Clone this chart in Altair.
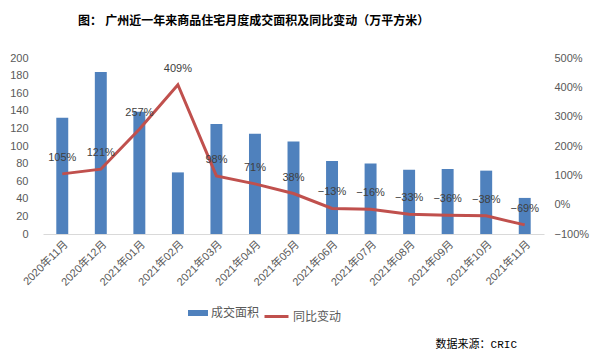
import altair as alt
import pandas as pd

months = ["2020年11月", "2020年12月", "2021年01月", "2021年02月", "2021年03月",
          "2021年04月", "2021年05月", "2021年06月", "2021年07月", "2021年08月",
          "2021年09月", "2021年10月", "2021年11月"]
area = [132, 184, 139, 70, 125, 114, 105, 83, 80, 73, 74, 72, 41]
yoy = [105, 121, 257, 409, 98, 71, 38, -13, -16, -33, -36, -38, -69]
left_ticks = [0, 20, 40, 60, 80, 100, 120, 140, 160, 180, 200]
right_ticks = [-100, 0, 100, 200, 300, 400, 500]

df = pd.DataFrame({"month": months, "area": area, "yoy": yoy})
df["bar_name"] = "成交面积"
df["line_name"] = "同比变动"

CJK = "Liberation Sans, Noto Sans CJK SC"
GRAY = "#595959"

x = alt.X("month:N", sort=months,
          scale=alt.Scale(paddingInner=0.69, paddingOuter=0.345),
          axis=alt.Axis(title=None, labelAngle=-45, labelFontSize=11,
                        labelColor=GRAY, labelFont=CJK, domainColor="#D9D9D9",
                        ticks=False, labelPadding=4))

bars = alt.Chart(df).mark_bar(color="#4F81BD").encode(
    x=x,
    y=alt.Y("area:Q", scale=alt.Scale(domain=[0, 200], nice=False),
            axis=alt.Axis(title=None, values=left_ticks, grid=False, domain=False,
                          ticks=False, labelPadding=15, labelFontSize=11,
                          labelColor=GRAY, labelFont=CJK)),
    color=alt.Color("bar_name:N", scale=alt.Scale(range=["#4F81BD"]),
                    legend=alt.Legend(title=None, orient="none", legendX=145, legendY=245,
                                      symbolType="M-1,-0.3H1V0.3H-1Z", symbolSize=400,
                                      symbolStrokeWidth=0, labelFontSize=12,
                                      labelColor=GRAY, labelFont=CJK, labelOffset=3)),
)

yline = alt.Y("yoy:Q", scale=alt.Scale(domain=[-100, 500], nice=False),
              axis=alt.Axis(title=None, orient="right", values=right_ticks, grid=False,
                            domain=False, ticks=False, labelPadding=10, labelFontSize=11,
                            labelColor=GRAY, labelFont=CJK,
                            labelExpr="format(datum.value / 100, '.0%')"))

base_line = alt.Chart(df).encode(x=x, y=yline)

line = base_line.mark_line(strokeWidth=3).encode(
    stroke=alt.Stroke("line_name:N", scale=alt.Scale(range=["#C0504D"]),
                      legend=alt.Legend(title=None, orient="none", legendX=220, legendY=245,
                                        symbolType="stroke", symbolSize=576,
                                        symbolStrokeWidth=3, labelFontSize=12,
                                        labelColor=GRAY, labelFont=CJK, labelOffset=3)),
)

labels = base_line.transform_calculate(
    lab="format(datum.yoy / 100, '.0%')"
).mark_text(dy=-16, fontSize=11, color="#404040", font=CJK).encode(
    text="lab:N"
)

source = alt.Chart(pd.DataFrame({"t": ["数据来源：CRIC"]})).mark_text(
    align="right", baseline="middle", fontSize=11, color="#000000",
    font="Liberation Mono, Noto Sans CJK SC"
).encode(text="t:N", x=alt.value(474), y=alt.value(287))

chart = alt.layer(bars, alt.layer(line, labels), source).resolve_scale(
    y="independent"
).properties(
    width=501, height=176,
    autosize=alt.AutoSizeParams(type="none"),
    padding={"left": 35, "top": 50, "right": 54, "bottom": 119},
    title=alt.TitleParams(text="图： 广州近一年来商品住宅月度成交面积及同比变动（万平方米）",
                          anchor="start", frame="group", dx=35, offset=24,
                          fontSize=12, fontWeight="bold", font=CJK, color="#000000"),
).configure_view(stroke=None)

chart.save("out.html", embed_options={"renderer": "svg", "actions": False})
